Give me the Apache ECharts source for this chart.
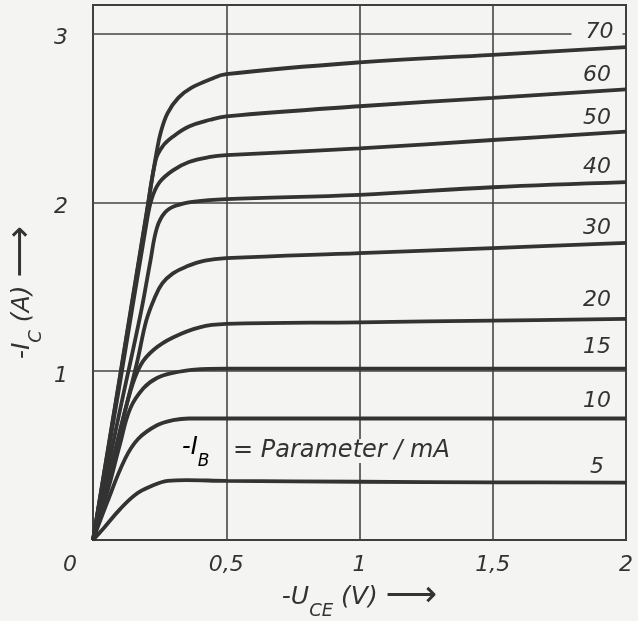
<!DOCTYPE html>
<html><head><meta charset="utf-8">
<script src="https://cdn.jsdelivr.net/npm/echarts@6/dist/echarts.min.js"></script>
<style>html,body{margin:0;padding:0;background:#f4f4f2;}#c{width:638px;height:621px;}</style>
</head><body><div id="c"></div>
<script>
// ---- data ----
const curveNames = ['5','10','15','20','30','40','50','60','70'];
const ib5  = [[0,0],[0.04,0.07],[0.1,0.18],[0.16,0.27],[0.22,0.32],[0.28,0.35],[0.35,0.355],[0.5,0.35],[1,0.345],[1.5,0.342],[2,0.34]];
const ib10 = [[0,0],[0.05,0.21],[0.12,0.48],[0.17,0.6],[0.24,0.68],[0.3,0.71],[0.36,0.72],[0.5,0.72],[1,0.72],[1.5,0.72],[2,0.72]];
const ib15 = [[0,0],[0.06,0.32],[0.1,0.56],[0.14,0.78],[0.19,0.9],[0.24,0.96],[0.3,0.99],[0.38,1.01],[0.5,1.015],[1,1.015],[1.5,1.015],[2,1.015]];
const ib20 = [[0,0],[0.08,0.5],[0.14,0.88],[0.18,1.04],[0.23,1.13],[0.3,1.2],[0.4,1.26],[0.5,1.28],[1,1.29],[1.5,1.30],[2,1.31]];
const ib30 = [[0,0],[0.1,0.64],[0.165,1.05],[0.2,1.3],[0.23,1.43],[0.26,1.52],[0.3,1.58],[0.35,1.62],[0.42,1.655],[0.5,1.67],[1,1.70],[1.5,1.73],[2,1.76]];
const ib40 = [[0,0],[0.1,0.76],[0.18,1.35],[0.215,1.65],[0.24,1.85],[0.27,1.94],[0.31,1.98],[0.38,2.005],[0.5,2.02],[1,2.045],[1.5,2.09],[2,2.12]];
const ib50 = [[0,0],[0.1,0.92],[0.2,1.87],[0.22,2.02],[0.25,2.12],[0.3,2.19],[0.36,2.24],[0.44,2.27],[0.5,2.28],[1,2.32],[1.5,2.37],[2,2.42]];
const ib60 = [[0,0],[0.1,0.95],[0.2,1.92],[0.235,2.25],[0.26,2.33],[0.3,2.39],[0.36,2.45],[0.44,2.49],[0.5,2.51],[1,2.57],[1.5,2.62],[2,2.67]];
const ib70 = [[0,0],[0.1,0.96],[0.2,1.93],[0.24,2.31],[0.255,2.42],[0.28,2.53],[0.32,2.62],[0.37,2.68],[0.44,2.73],[0.5,2.76],[1,2.83],[1.5,2.875],[2,2.92]];
const xTickLabels = ['0','0,5','1','1,5','2'];
const yTickLabels = ['0','1','2','3'];

// ---- style ----
const INK = '#333333', GRID = '#454545', BG = '#f4f4f2';
const FONT = 'DejaVu Sans';
const curves = [ib5, ib10, ib15, ib20, ib30, ib40, ib50, ib60, ib70];
const labelDy = [-15,-17,-21,-19,-15,-15,-13,-14,-15];
const txt = (size, extra) => Object.assign({fontFamily:FONT, fontStyle:'italic', fontSize:size, color:INK, verticalAlign:'middle'}, extra||{});

const chart = echarts.init(document.getElementById('c'), null, {renderer:'canvas'});
chart.setOption({
  backgroundColor: BG,
  animation: false,
  grid: {left:93, right:12, top:5, bottom:81, show:true, borderColor:INK, borderWidth:2,
         backgroundColor:'transparent', containLabel:false, outerBoundsMode:'none'},
  xAxis: {
    type:'value', min:0, max:2, interval:0.5,
    axisLine:{show:false}, axisTick:{show:false},
    splitLine:{show:true, lineStyle:{color:GRID, width:1.6}},
    axisLabel:{
      margin:14, fontFamily:FONT, fontStyle:'italic', fontSize:22, color:INK,
      formatter: v => { const i = Math.round(v/0.5); return i===0 ? '{z|'+xTickLabels[0]+'}' : '{n|'+xTickLabels[i]+'}'; },
      rich:{ z: txt(22,{padding:[0,46,0,0]}), n: txt(22) }
    },
    name:'{m|-U}{s|CE}{m| (V) }{a|⟶}', nameLocation:'middle', nameGap:34, nameMoveOverlap:false,
    nameTextStyle:{ rich:{ m: txt(25), s: txt(18,{padding:[28,0,0,0]}), a: txt(36,{fontStyle:'normal'}) } }
  },
  yAxis: {
    type:'value', min:0, max:3.17, interval:1,
    axisLine:{show:false}, axisTick:{show:false},
    splitLine:{show:true, lineStyle:{color:GRID, width:1.6}},
    axisLabel:{
      margin:25, fontFamily:FONT, fontStyle:'italic', fontSize:22, color:INK,
      formatter: v => (v>0.5 && v<3.05 && Math.abs(v-Math.round(v))<1e-6) ? '{t|'+yTickLabels[Math.round(v)]+'}' : '',
      rich:{ t: txt(22,{padding:[10,0,0,0]}) }
    },
    name:'{m|-I}{s|C}{m| (A) }{a|⟶}', nameLocation:'middle', nameRotate:90, nameGap:48, nameMoveOverlap:false,
    nameTextStyle:{ rich:{ m: txt(25), s: txt(18,{padding:[28,0,0,0]}), a: txt(36,{fontStyle:'normal', padding:[0,40,0,0]}) } }
  },
  graphic: [
    {type:'text', left:182, top:436, z:20, style:{
      text:'{m|-I}{s|B}', rich:{ m: txt(24), s: txt(17,{padding:[28,0,0,0]}) } }},
    {type:'text', left:229, top:439, z:20, style:{
      text:'= Parameter / mA', font:'italic 24px "DejaVu Sans"', fill:INK, backgroundColor:BG, padding:[0,4,0,4] }}
  ],
  series: curves.map((d,i) => ({
    type:'line', name:curveNames[i], data:d, showSymbol:false, symbol:'none',
    smooth:0.4, silent:true, z:3,
    lineStyle:{color:INK, width:3.8},
    emphasis:{disabled:true},
    endLabel: Object.assign({show:true, formatter:'{a}', distance:0, align:'center', verticalAlign:'middle',
      offset:[-29, labelDy[i]], fontFamily:FONT, fontStyle:'italic', fontSize:22, color:INK},
      i===8 ? {backgroundColor:BG, padding:[0,9,0,14]} : {})
  }))
});
</script></body></html>
